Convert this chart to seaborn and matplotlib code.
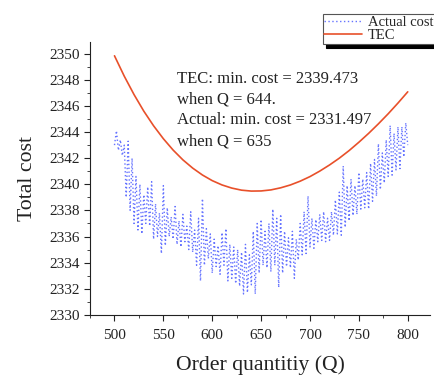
import numpy as np
import pandas as pd
import matplotlib
matplotlib.use("Agg")
import matplotlib.pyplot as plt
from matplotlib.ticker import MultipleLocator
import seaborn as sns

# ================= DATA =================
# Actual cost, every 2 units of Q (500..800)
q_actual = list(range(500, 801, 2))
actual_cost = [
    2343.0, 2344.1, 2342.6, 2343.4, 2342.2, 2343.0, 2339.0, 2343.3, 2338.0, 2342.0,
    2337.0, 2340.6, 2336.5, 2340.0, 2336.2, 2339.2, 2337.0, 2339.8, 2336.8, 2340.2,
    2335.8, 2338.5, 2336.0, 2337.8, 2334.7, 2339.9, 2335.3, 2338.2, 2336.0, 2337.5,
    2335.8, 2338.3, 2335.4, 2337.2, 2335.2, 2337.7, 2335.6, 2336.8, 2335.0, 2337.9,
    2334.8, 2336.5, 2333.8, 2337.4, 2332.6, 2338.9, 2333.8, 2336.6, 2334.3, 2336.2,
    2333.2, 2335.8, 2333.7, 2335.3, 2333.1, 2336.3, 2333.8, 2336.6, 2332.6, 2335.4,
    2332.8, 2335.2, 2332.4, 2335.0, 2332.2, 2334.8, 2331.6, 2335.4, 2331.7, 2334.6,
    2332.3, 2336.4, 2331.6, 2337.0, 2333.2, 2337.3, 2333.8, 2336.4, 2333.6, 2337.0,
    2333.3, 2338.1, 2333.8, 2337.4, 2332.1, 2337.7, 2333.2, 2336.4, 2333.7, 2335.9,
    2333.6, 2336.4, 2332.8, 2335.8, 2334.2, 2337.0, 2334.6, 2337.9, 2334.7, 2339.1,
    2335.2, 2337.4, 2335.1, 2337.3, 2335.6, 2337.7, 2335.7, 2337.9, 2335.6, 2337.4,
    2335.7, 2337.9, 2336.1, 2338.8, 2336.2, 2339.4, 2336.1, 2341.4, 2336.7, 2339.9,
    2337.2, 2340.4, 2337.6, 2339.9, 2337.7, 2340.9, 2338.1, 2340.4, 2338.2, 2340.9,
    2338.1, 2341.6, 2338.7, 2341.9, 2339.1, 2343.1, 2339.6, 2342.4, 2340.1, 2343.4,
    2340.6, 2344.5, 2340.7, 2343.9, 2341.1, 2344.4, 2341.2, 2344.4, 2342.1, 2344.7,
    2343.0,
]

# TEC curve, every 10 units of Q
q_tec = list(range(500, 801, 10))
tec_cost = [
    2349.84, 2348.28, 2346.87, 2345.60, 2344.48, 2343.49, 2342.62, 2341.87,
    2341.24, 2340.71, 2340.28, 2339.95, 2339.71, 2339.55, 2339.48, 2339.49,
    2339.57, 2339.73, 2339.95, 2340.24, 2340.59, 2341.01, 2341.48, 2342.00,
    2342.58, 2343.22, 2343.90, 2344.63, 2345.40, 2346.22, 2347.08,
]

note_lines = [
    "TEC: min. cost = 2339.473",
    "when Q = 644.",
    "Actual: min. cost = 2331.497",
    "when Q = 635",
]

df_actual = pd.DataFrame({"Q": q_actual, "cost": actual_cost})
df_tec = pd.DataFrame({"Q": q_tec, "cost": tec_cost})

# ================= STYLE =================
sns.set_style("ticks")
plt.rcParams["font.family"] = ["Liberation Serif", "DejaVu Serif"]

fig = plt.figure(figsize=(4.35, 3.78), dpi=100)
ax = fig.add_axes([0.207, 0.167, 0.782, 0.722])

sns.lineplot(data=df_actual, x="Q", y="cost", ax=ax, color="#4a5aff",
             linestyle=(0, (1, 1.8)), linewidth=1.0, alpha=0.85,
             label="Actual cost")
sns.lineplot(data=df_tec, x="Q", y="cost", ax=ax, color="#e8502a",
             linewidth=1.2, label="TEC")

ax.set_xlim(475, 823)
ax.set_ylim(2330, 2350.9)
ax.xaxis.set_major_locator(MultipleLocator(50))
ax.xaxis.set_minor_locator(MultipleLocator(25))
ax.yaxis.set_major_locator(MultipleLocator(2))
ax.yaxis.set_minor_locator(MultipleLocator(1))
ax.tick_params(which="major", direction="out", length=4, width=0.8,
               labelsize=11, colors="#222222")
ax.tick_params(axis="x", which="major", pad=6)
ax.tick_params(which="minor", direction="out", length=2, width=0.6)

for side in ["top", "right"]:
    ax.spines[side].set_visible(False)
for side in ["left", "bottom"]:
    ax.spines[side].set_linewidth(0.8)
    ax.spines[side].set_color("#222222")

ax.set_xlabel("Order quantitiy (Q)", fontsize=15.7, color="#222222", labelpad=10)
ax.set_ylabel("Total cost", fontsize=15.7, color="#222222", labelpad=9)

for i, line in enumerate(note_lines):
    ax.text(564, 2348.1 - i * 1.6, line, fontsize=12, color="#222222",
            va="center", ha="left")

leg = ax.legend(loc="upper left", bbox_to_anchor=(0.742, 0.962),
                bbox_transform=fig.transFigure, frameon=True, fancybox=False,
                shadow={"color": "black", "alpha": 1.0, "ox": 2, "oy": -3},
                fontsize=10.5, handlelength=2.6, handletextpad=0.4,
                borderpad=0.1, labelspacing=0.0, borderaxespad=0)
leg.get_frame().set_edgecolor("#555555")
leg.get_frame().set_linewidth(0.8)

fig.savefig("out.png", dpi=100)
plt.close(fig)
